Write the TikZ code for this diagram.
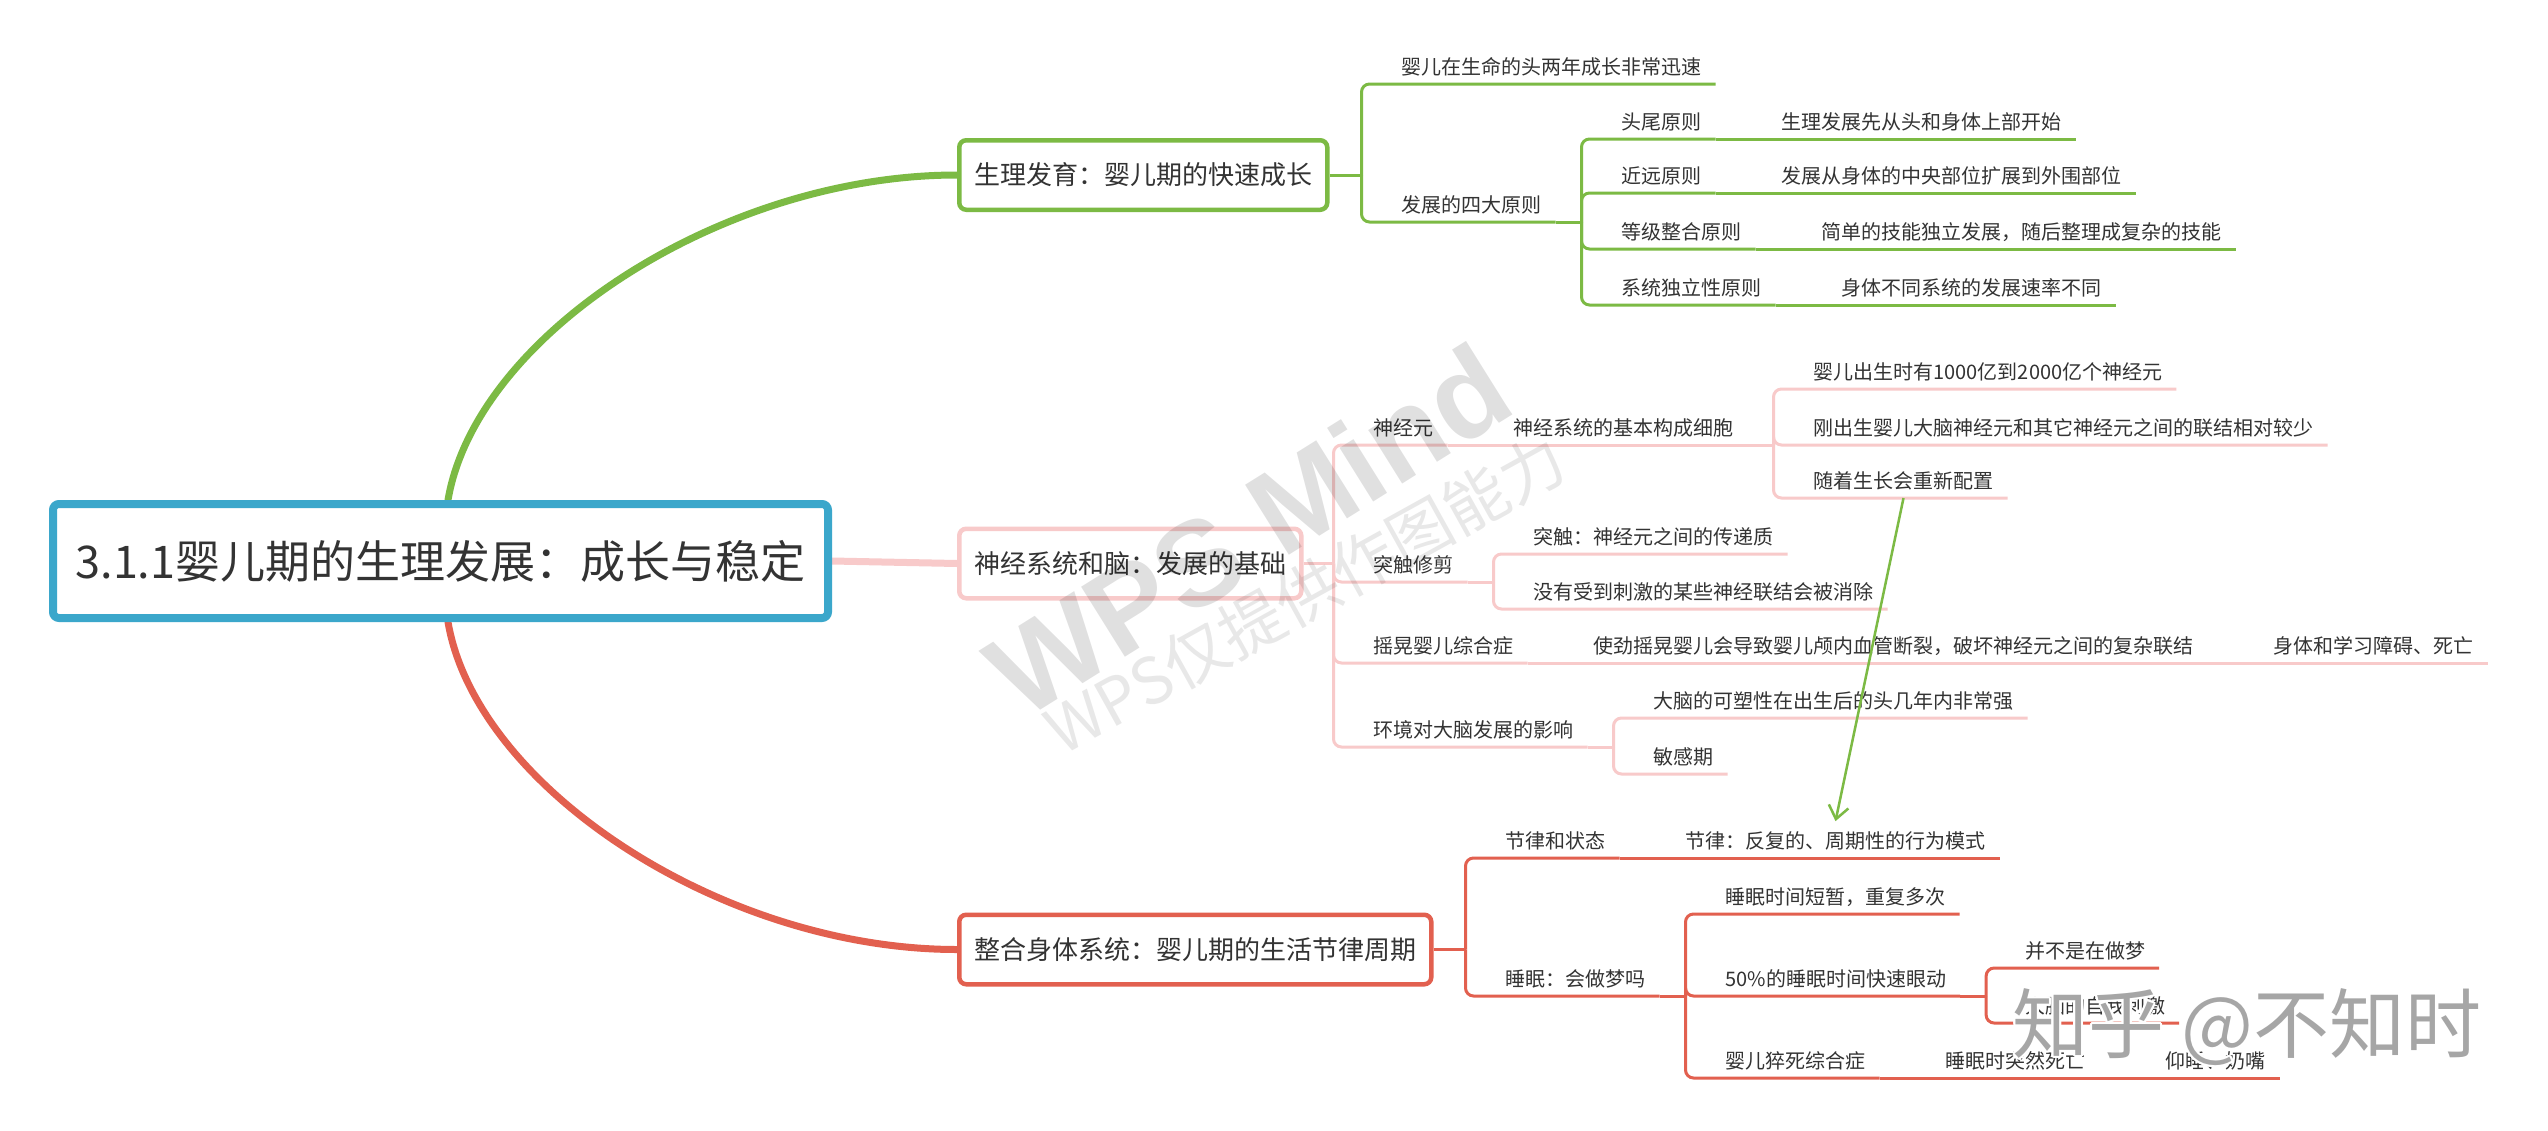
\documentclass[tikz,border=0pt]{standalone}
\usepackage{fontspec}
\setmainfont{Noto Sans CJK SC}
\newfontfamily\wmfont{Liberation Sans}
\usetikzlibrary{arrows.meta,backgrounds}
\definecolor{txt}{HTML}{333333}
\definecolor{cgreen}{HTML}{7CBA44}
\definecolor{cblue}{HTML}{3BA7CB}
\definecolor{cpink}{HTML}{F8CACA}
\definecolor{cred}{HTML}{E2604F}
\definecolor{wmgray}{HTML}{A6A6A6}
\tikzset{
  leaf/.style={anchor=south west, inner sep=0pt, outer xsep=14pt, outer ysep=10pt,
    text depth=0pt, text=txt, font=\fontsize{20}{24}\selectfont},
  branch/.style={anchor=west, rounded corners=7pt, line width=4.5pt, fill=white,
    text=txt, font=\fontsize{26}{30}\selectfont, inner xsep=15pt, inner ysep=0pt,
    minimum height=69.5pt},
  mainbox/.style={draw=cblue, line width=8pt, rounded corners=6pt, fill=white,
    text=txt, font=\fontsize{45}{50}\selectfont, minimum width=775pt,
    minimum height=114pt, inner sep=0pt},
  gl/.style={draw=cgreen, line width=3pt, rounded corners=8pt},
  pl/.style={draw=cpink, line width=3pt, rounded corners=8pt},
  rl/.style={draw=cred, line width=3pt, rounded corners=8pt},
  thick curve/.style={line width=7pt, line cap=round},
  zh/.style={font=\fontsize{76}{80}\selectfont, inner sep=0pt}
}
\begin{document}
\begin{tikzpicture}[x=1pt,y=-1pt]
\useasboundingbox (0,0) rectangle (2548,1130);

% ---------- nodes ----------
\node[mainbox] (main) at (440.5,561) {3.1.1婴儿期的生理发展：成长与稳定};
\node[branch, draw=cgreen] (gb) at (957,175) {生理发育：婴儿期的快速成长};
\node[branch, draw=cpink] (pb) at (957,563.5) {神经系统和脑：发展的基础};
\node[branch, draw=cred] (rb) at (957,949.5) {整合身体系统：婴儿期的生活节律周期};

% green branch
\node[leaf] (g1) at (1387.5,84) {婴儿在生命的头两年成长非常迅速};
\node[leaf] (g2) at (1387.5,222) {发展的四大原则};
\node[leaf] (g21) at (1607.5,139) {头尾原则};
\node[leaf] (g22) at (1607.5,193) {近远原则};
\node[leaf] (g23) at (1607.5,249) {等级整合原则};
\node[leaf] (g24) at (1607.5,305) {系统独立性原则};
\node[leaf] (g21c) at ([xshift=52pt]g21.south east) {生理发展先从头和身体上部开始};
\node[leaf] (g22c) at ([xshift=52pt]g22.south east) {发展从身体的中央部位扩展到外围部位};
\node[leaf] (g23c) at ([xshift=52pt]g23.south east) {简单的技能独立发展，随后整理成复杂的技能};
\node[leaf] (g24c) at ([xshift=52pt]g24.south east) {身体不同系统的发展速率不同};

% pink branch
\node[leaf] (p1) at (1359.5,445) {神经元};
\node[leaf] (p1c) at ([xshift=52pt]p1.south east) {神经系统的基本构成细胞};
\node[leaf] (p11) at (1799.5,389) {婴儿出生时有1000亿到2000亿个神经元};
\node[leaf] (p12) at (1799.5,445) {刚出生婴儿大脑神经元和其它神经元之间的联结相对较少};
\node[leaf] (p13) at (1799.5,498) {随着生长会重新配置};
\node[leaf] (p2) at (1359.5,582) {突触修剪};
\node[leaf] (p21) at (1519.5,554) {突触：神经元之间的传递质};
\node[leaf] (p22) at (1519.5,609) {没有受到刺激的某些神经联结会被消除};
\node[leaf] (p3) at (1359.5,663) {摇晃婴儿综合症};
\node[leaf] (p3c) at ([xshift=52pt]p3.south east) {使劲摇晃婴儿会导致婴儿颅内血管断裂，破坏神经元之间的复杂联结};
\node[leaf] (p3cc) at ([xshift=52pt]p3c.south east) {身体和学习障碍、死亡};
\node[leaf] (p4) at (1359.5,747) {环境对大脑发展的影响};
\node[leaf] (p41) at (1639.5,718) {大脑的可塑性在出生后的头几年内非常强};
\node[leaf] (p42) at (1639.5,774) {敏感期};

% red branch
\node[leaf] (r1) at (1491.5,858) {节律和状态};
\node[leaf] (r1c) at ([xshift=52pt]r1.south east) {节律：反复的、周期性的行为模式};
\node[leaf] (r2) at (1491.5,996) {睡眠：会做梦吗};
\node[leaf] (r21) at (1711.5,914) {睡眠时间短暂，重复多次};
\node[leaf] (r22) at (1711.5,996) {50\%的睡眠时间快速眼动};
\node[leaf] (r221) at (2011,968) {并不是在做梦};
\node[leaf] (r222) at (2011,1023) {大脑的自我刺激};
\node[leaf] (r23) at (1711.5,1078) {婴儿猝死综合症};
\node[leaf] (r23c) at ([xshift=52pt]r23.south east) {睡眠时突然死亡};
\node[leaf] (r23cc) at ([xshift=52pt]r23c.south east) {仰睡、奶嘴};

% ---------- connectors ----------
\begin{scope}[on background layer]
\fill[white] (0,0) rectangle (2548,1130);
\coordinate (gstart) at ([xshift=399pt]main.north west);
\coordinate (rstart) at ([xshift=399pt]main.south west);
\draw[cgreen, thick curve] (gstart) .. controls +(28,-165) and +(-235,0) .. (gb.west);
\draw[cred, thick curve] (rstart) .. controls +(28,165) and +(-235,0) .. (rb.west);
\draw[cpink, line width=7pt] (main.east) -- (pb.west);

% green
\coordinate (gv) at ([xshift=32pt]gb.east);
\draw[gl] (gb.east) -- (gv);
\draw[gl] (gv) |- (g1.south east);
\draw[gl] (gv) |- (g2.south east);
\coordinate (g2v) at ([xshift=26pt]g2.south east);
\draw[gl] (g2.south east) -- (g2v);
\foreach \n in {g21,g22,g23,g24}{
  \draw[gl] (g2v) |- (\n.south east);
  \draw[gl] (\n.south east) -- (\n c.south east);
}

% pink
\coordinate (pv) at ([xshift=30pt]pb.east);
\draw[pl] (pb.east) -- (pv);
\foreach \n in {p1,p2,p3,p4} \draw[pl] (pv) |- (\n.south east);
\draw[pl] (p1.south east) -- (p1c.south east);
\coordinate (p1v) at ([xshift=26pt]p1c.south east);
\draw[pl] (p1c.south east) -- (p1v);
\foreach \n in {p11,p12,p13} \draw[pl] (p1v) |- (\n.south east);
\coordinate (p2v) at ([xshift=26pt]p2.south east);
\draw[pl] (p2.south east) -- (p2v);
\foreach \n in {p21,p22} \draw[pl] (p2v) |- (\n.south east);
\draw[pl] (p3.south east) -- (p3c.south east) -- (p3cc.south east);
\coordinate (p4v) at ([xshift=26pt]p4.south east);
\draw[pl] (p4.south east) -- (p4v);
\foreach \n in {p41,p42} \draw[pl] (p4v) |- (\n.south east);

% red
\coordinate (rv) at ([xshift=32pt]rb.east);
\draw[rl] (rb.east) -- (rv);
\foreach \n in {r1,r2} \draw[rl] (rv) |- (\n.south east);
\draw[rl] (r1.south east) -- (r1c.south east);
\coordinate (r2v) at ([xshift=26pt]r2.south east);
\draw[rl] (r2.south east) -- (r2v);
\foreach \n in {r21,r22,r23} \draw[rl] (r2v) |- (\n.south east);
\coordinate (r22v) at ([xshift=26pt]r22.south east);
\draw[rl] (r22.south east) -- (r22v);
\foreach \n in {r221,r222} \draw[rl] (r22v) |- (\n.south east);
\draw[rl] (r23.south east) -- (r23c.south east) -- (r23cc.south east);
\end{scope}

% cross link
\draw[cgreen, line width=2.5pt, -{Straight Barb[length=13pt,width=20pt]}] (p13.south) -- (r1c.north);

% ---------- watermarks ----------
\node[rotate=32, anchor=base west, inner sep=0pt, text=black, opacity=0.12,
  font=\wmfont\bfseries\fontsize{120}{120}\selectfont] (wm1) at (1022,722) {WPS Mind};
\node[rotate=29, anchor=base west, inner sep=0pt, text=black, opacity=0.09,
  font=\fontsize{64}{64}\selectfont] (wm2) at (1062,757) {WPS仅提供作图能力};
\foreach \a in {0,30,...,330}
  \node[zh, text=white] (zhw\a) at ([shift={(\a:2pt)}]2247,1027) {知乎 @不知时};
\node[zh, text=wmgray] (zhm) at (2247,1027) {知乎 @不知时};
\end{tikzpicture}
\end{document}
